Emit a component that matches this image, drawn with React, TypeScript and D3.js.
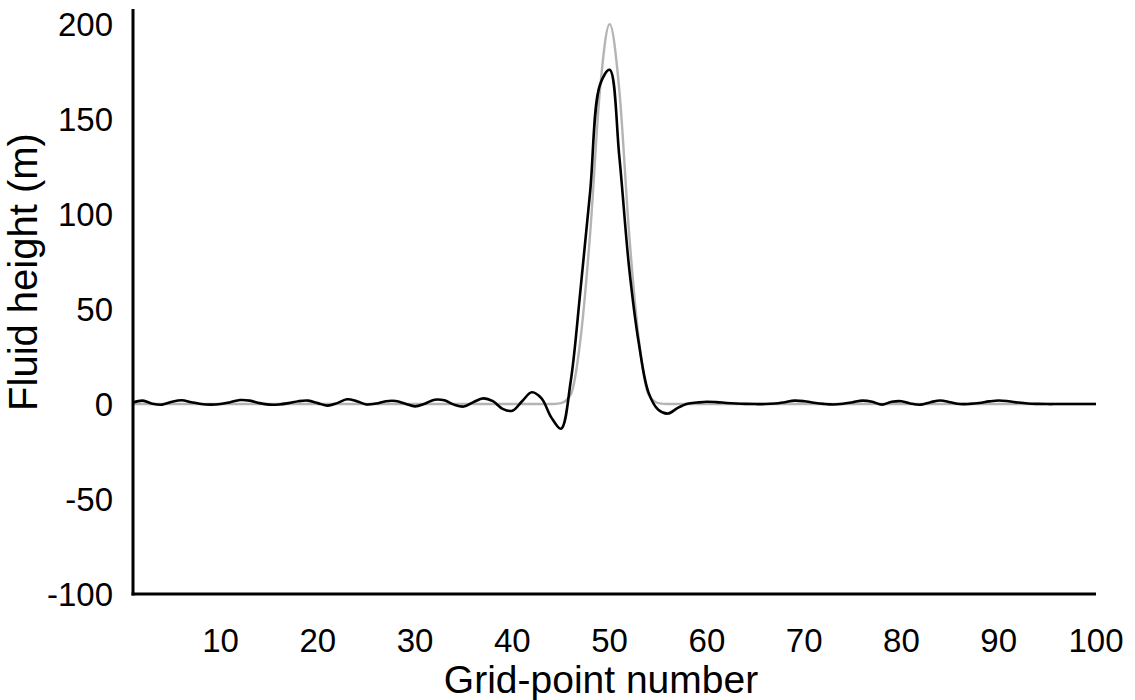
import * as d3 from 'd3';

// initial condition (grey) and model result (black), one value per grid point 1..100
const initialHeight = [
  0, 0, 0, 0, 0, 0, 0, 0, 0, 0,
  0, 0, 0, 0, 0, 0, 0, 0, 0, 0,
  0, 0, 0, 0, 0, 0, 0, 0, 0, 0,
  0, 0, 0, 0, 0, 0, 0, 0, 0, 0,
  0, 0, 0, 0, 0.5, 5, 34, 90, 165, 200,
  165, 90, 34, 5, 0.5, 0, 0, 0, 0, 0,
  0, 0, 0, 0, 0, 0, 0, 0, 0, 0,
  0, 0, 0, 0, 0, 0, 0, 0, 0, 0,
  0, 0, 0, 0, 0, 0, 0, 0, 0, 0,
  0, 0, 0, 0, 0, 0, 0, 0, 0, 0,
];

const modelHeight = [
  0.8, 1.8, 0.2, -0.3, 1.2, 2.0, 1.0, 0.0, -0.3, 0.0,
  1.0, 2.1, 1.8, 0.5, -0.3, -0.2, 0.5, 1.5, 1.8, 0.5,
  -0.8, 0.5, 2.5, 1.5, -0.2, 0.3, 1.5, 1.6, 0.2, -1.2,
  0.2, 2.3, 2.0, -0.3, -1.3, 1.0, 3.0, 1.5, -2.5, -3.5,
  1.5, 6.2, 3.0, -7.0, -13.0, 12, 60, 112, 168, 176,
  130, 72, 32, 6, -3, -5, -2, 0.2, 0.8, 1.2,
  1.0, 0.6, 0.3, 0.1, 0, 0, 0.3, 1.0, 1.8, 1.5,
  0.7, 0.1, -0.2, 0.2, 1.0, 1.8, 1.2, -0.3, 1.2, 1.5,
  0.2, -0.3, 1.0, 1.9, 1.0, 0, 0.1, 0.6, 1.4, 1.9,
  1.5, 0.8, 0.3, 0.1, 0, 0, 0, 0, 0, 0,
];

const xTicks = [10, 20, 30, 40, 50, 60, 70, 80, 90, 100];
const yTicks = [-100, -50, 0, 50, 100, 150, 200];

const width = 1135;
const height = 700;
const font = '"Liberation Sans", Arial, Helvetica, sans-serif';

export default function App() {
  const x = d3.scaleLinear().domain([1, 100]).range([133, 1096]);
  const y = d3.scaleLinear().domain([-100, 208]).range([594, 9]);

  const line = (vals: number[], curve: d3.CurveFactory) =>
    d3
      .line<number>()
      .x((_, i) => x(i + 1))
      .y((d) => y(d))
      .curve(curve)(vals) ?? '';

  return (
    <div style={{ position: 'absolute', left: 0, top: 0 }}>
      <svg width={width} height={height} style={{ display: 'block', background: '#fff' }}>
        {/* grey initial hump */}
        <path d={line(initialHeight, d3.curveMonotoneX)} fill="none" stroke="#b4b4b4" strokeWidth={2.4} />
        {/* black model solution */}
        <path d={line(modelHeight, d3.curveCatmullRom)} fill="none" stroke="#000" strokeWidth={2.6} />

        {/* axes */}
        <line x1={x(1)} x2={x(1)} y1={y(208)} y2={y(-100) + 1.5} stroke="#000" strokeWidth={3} />
        <line x1={x(1) - 1.5} x2={x(100)} y1={y(-100)} y2={y(-100)} stroke="#000" strokeWidth={3} />

        {yTicks.map((t) => (
          <text
            key={t}
            x={113}
            y={y(t)}
            dy="0.36em"
            textAnchor="end"
            fontFamily={font}
            fontSize={33}
            fill="#000"
          >
            {t}
          </text>
        ))}

        {xTicks.map((t) => (
          <text
            key={t}
            x={x(t)}
            y={652}
            textAnchor="middle"
            fontFamily={font}
            fontSize={33}
            fill="#000"
          >
            {t}
          </text>
        ))}

        <text x={601} y={693} textAnchor="middle" fontFamily={font} fontSize={39} fill="#000">
          Grid-point number
        </text>
        <text
          transform={`translate(37,272) rotate(-90)`}
          textAnchor="middle"
          fontFamily={font}
          fontSize={40}
          fill="#000"
        >
          Fluid height (m)
        </text>
      </svg>
    </div>
  );
}
